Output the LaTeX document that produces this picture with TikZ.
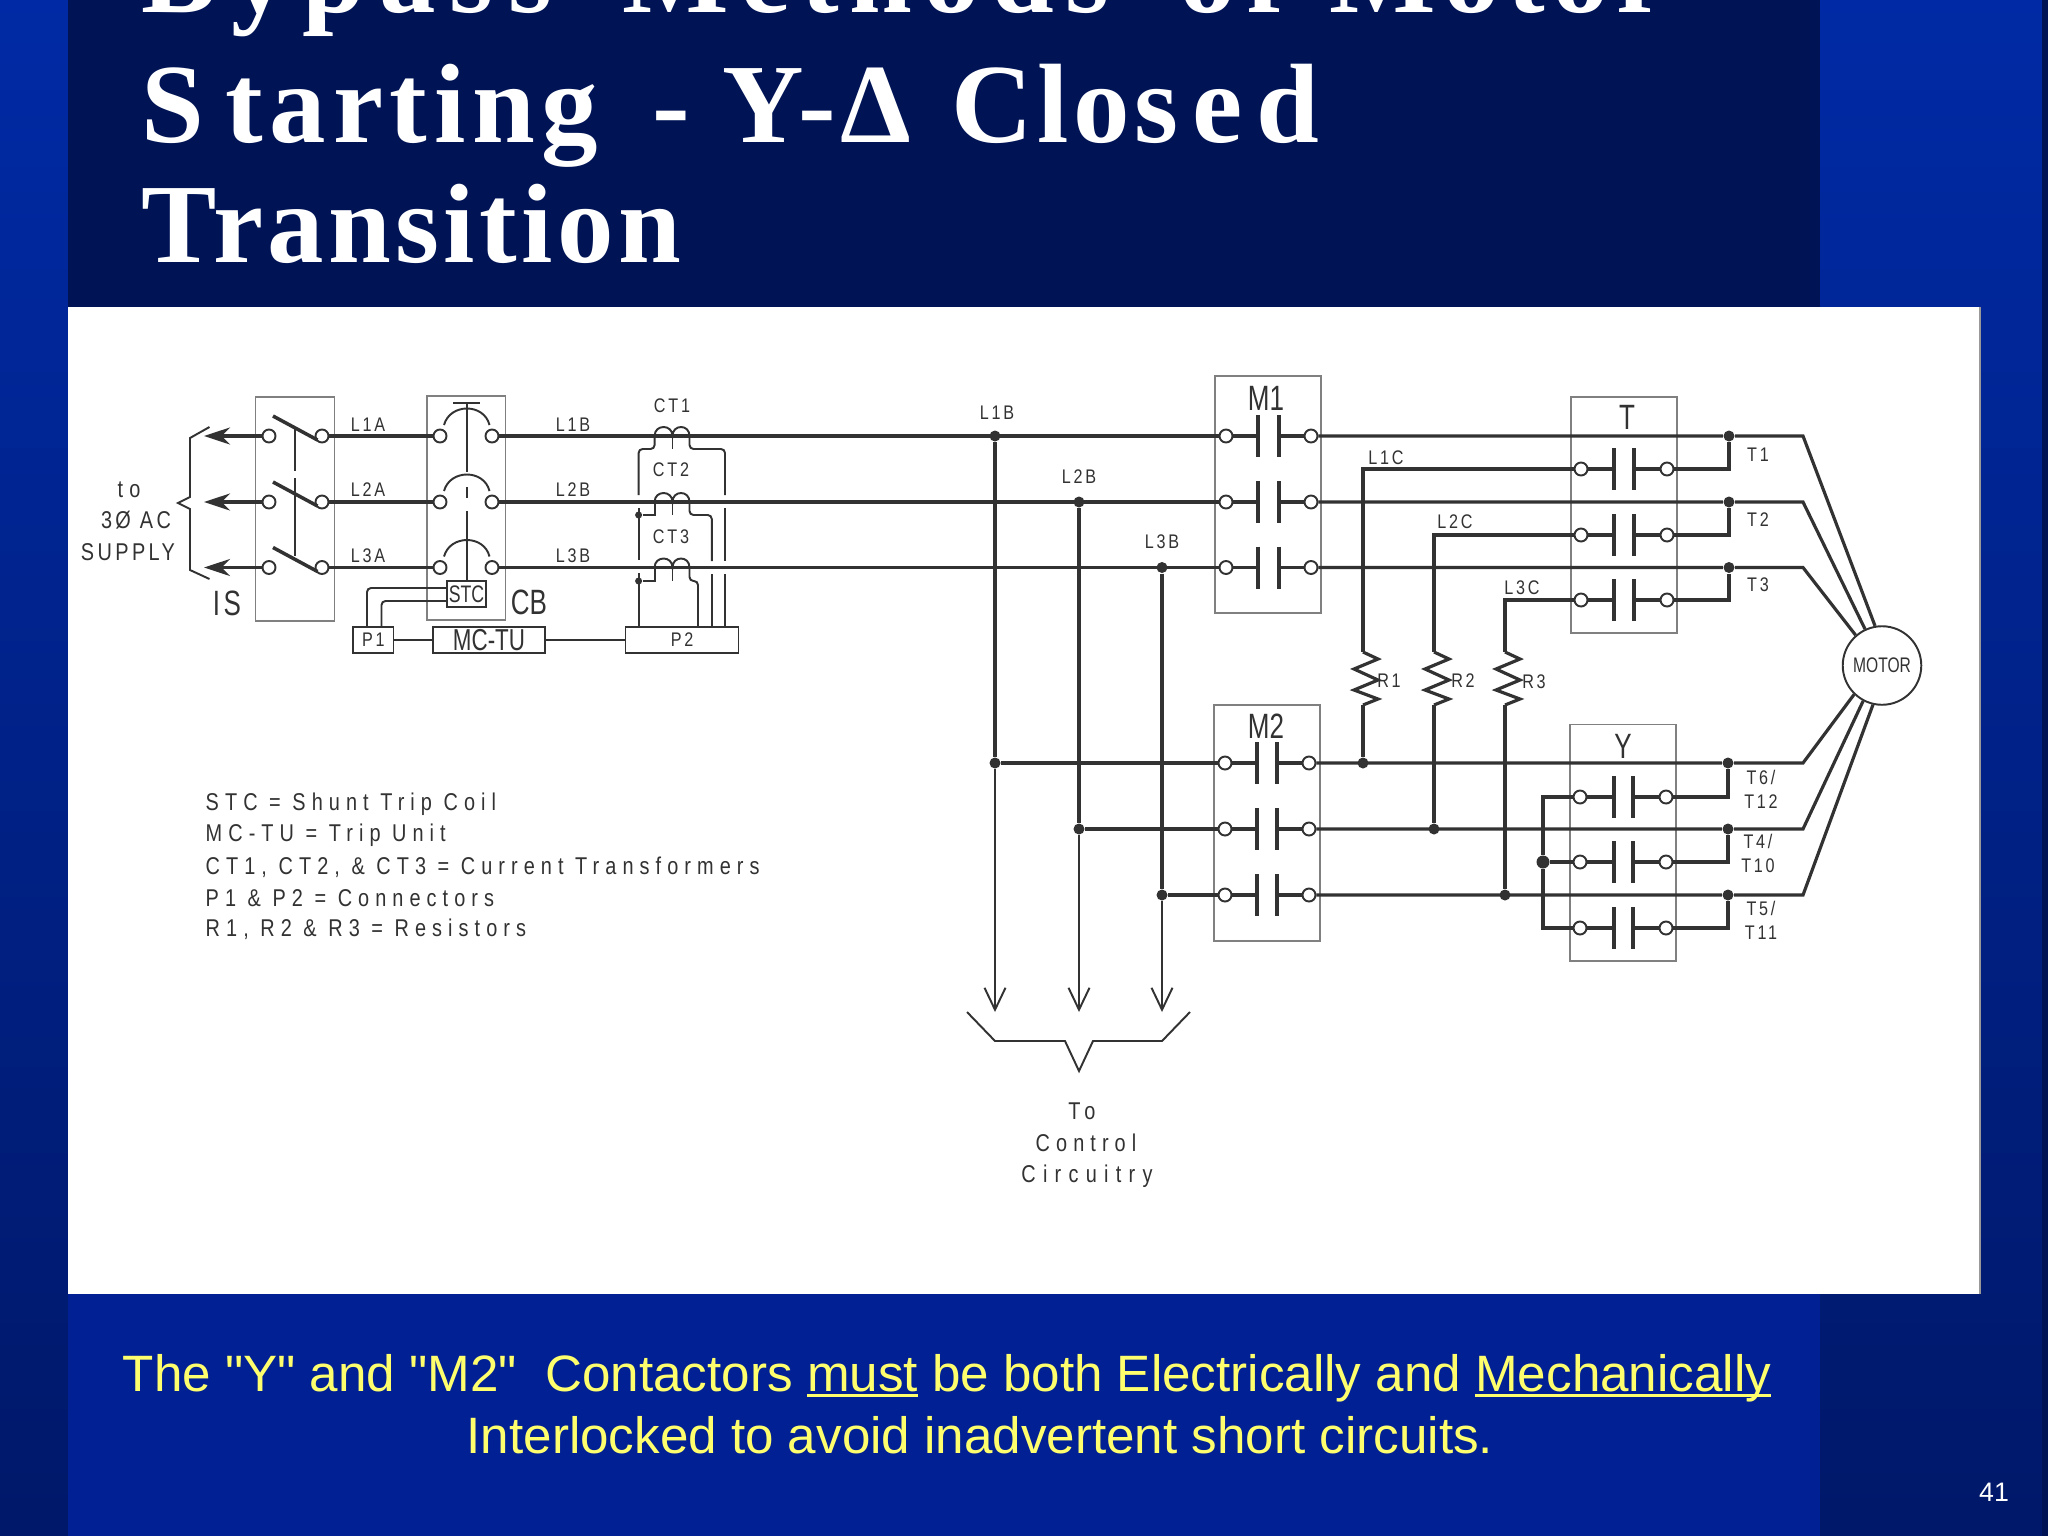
\documentclass[tikz,border=0pt]{standalone}
\usepackage{fontspec}
\usetikzlibrary{fit}
\usetikzlibrary{arrows.meta}
\newfontfamily\drawfont[LetterSpace=14,FakeStretch=0.82]{Liberation Sans}
\newfontfamily\legfont[LetterSpace=25,FakeStretch=0.82]{Liberation Sans}
\newfontfamily\tightfont[FakeStretch=0.74]{Liberation Sans}
\newfontfamily\plainfont{Liberation Sans}
\newfontfamily\titlefont[LetterSpace=4]{Liberation Serif}
\definecolor{navy}{RGB}{0,20,85}
\definecolor{stripTop}{RGB}{0,42,165}
\definecolor{stripLow}{RGB}{0,24,105}
\definecolor{footblue}{RGB}{0,32,148}
\definecolor{noteyellow}{RGB}{255,255,110}
\definecolor{ink}{RGB}{50,50,50}
\tikzset{
	wire/.style={line width=0.9pt,draw=ink},
	thinwire/.style={line width=0.55pt,draw=ink},
	plate/.style={line width=1pt,draw=ink},
	panel/.style={draw=black!50,line width=0.4pt,inner sep=0pt},
	term/.style={circle,draw=ink,fill=white,line width=0.55pt,minimum size=0.13cm,inner sep=0pt},
	jdot/.style={circle,fill=ink,minimum size=0.11cm,inner sep=0pt},
	lab/.style={text=ink,inner sep=0pt,font=\drawfont\fontsize{5.6}{6}\selectfont},
	leg/.style={text=ink,inner sep=0pt,font=\legfont\fontsize{6.9}{7}\selectfont},
	biglab/.style={text=ink,inner sep=0pt,font=\tightfont\fontsize{10}{10}\selectfont},
	conbox/.style={draw=ink,line width=0.45pt,inner sep=0pt},
	title/.style={text=white,anchor=base west,inner sep=0pt,font=\titlefont\fontsize{32.1}{32.1}\selectfont\bfseries},
	note/.style={text=noteyellow,anchor=base,inner sep=0pt,font=\plainfont\fontsize{14.55}{15}\selectfont},
}
% word with a line under it at a fixed depth
\newcommand{\ulword}[1]{\setbox0=\hbox{#1}\rlap{\rule[-1.7pt]{\wd0}{0.75pt}}\box0\relax}
\newcommand{\spaced}[2]{{\addfontfeature{LetterSpace=#1}#2}}
% name, left terminal, left plate, right plate, right terminal, row
\newcommand{\contact}[6]{%
	\node (#1-l) [term] at (#2,#6) {};
	\node (#1-r) [term] at (#5,#6) {};
	\coordinate (#1-a) at (#3,#6);
	\coordinate (#1-b) at (#4,#6);
	\draw[plate] (#3,#6-21) -- (#3,#6+21);
	\draw[plate] (#4,#6-21) -- (#4,#6+21);
	\draw[wire] (#1-l) -- (#1-a);
	\draw[wire] (#1-b) -- (#1-r);
}
\begin{document}
\begin{tikzpicture}[x=0.01cm,y=-0.01cm]
	\path[use as bounding box,clip] (0,0) rectangle (2048,1536);
	% slide
	\shade[top color=stripTop,bottom color=stripLow] (0,0) rectangle (2048,1536);
	\fill[navy] (2042,0) rectangle (2048,1536);
	\fill[navy] (68,0) rectangle (1820,307);
	\fill[footblue] (68,1294) rectangle (1820,1536);
	\fill[white] (68,307) rectangle (1980,1294);
	\draw[black!40,line width=0.4pt] (1980,307) -- (1980,1294);
	\node (title1) [title] at (141,12) {\spaced{12.7}{Bypass}\kern 20pt\spaced{9.8}{Methods}\kern 20pt\spaced{9.3}{of}\kern 13pt\spaced{6.6}{Motor}};
	\node (title2) [title] at (141,142) {S\kern 6pt\spaced{6}{tarting}\kern 6pt\ -\ Y-Δ\kern 11.5pt Clos\kern 4pt e\kern 4pt d};
	\node (title3) [title] at (141,262) {Trans\kern 1pt ition};
	\node (note1) [note] at (947,1391) {The "Y" and "M2"\ \ Contactors \ulword{must} be both Electrically and \ulword{Mechanically}};
	\node (note2) [note] at (980,1453) {Interlocked to avoid inadvertent short circuits.};
	\node (pagenum) [text=white,inner sep=0pt,font=\plainfont\fontsize{7.6}{8}\selectfont] at (1994,1492) {41};
	% panels
	\node (ISbox) [panel,fit={(255.5,397) (334.5,621)}] {};
	\node (CBbox) [panel,fit={(427,396) (505.5,620)}] {};
	\node (M1box) [panel,fit={(1215,376) (1321,613)}] {};
	\node (M2box) [panel,fit={(1214,705) (1320,941)}] {};
	\node (Tbox) [panel,fit={(1571,397) (1677,633)}] {};
	\node (Ybox) [panel,fit={(1570,724.5) (1676,961)}] {};
	% isolating switch and breaker
	\foreach \r/\y in {1/436,2/502,3/567.5}{
		\node (ISl\r) [term] at (269,\y) {};
		\node (ISr\r) [term] at (322,\y) {};
		\node (CBl\r) [term] at (440,\y) {};
		\node (CBr\r) [term] at (492,\y) {};
		\coordinate (sup\r) at (204,\y);
		\draw[wire,-{Stealth[length=0.26cm,width=0.17cm]}] (ISl\r) -- (sup\r);
		\draw[wire] (ISr\r) -- (CBl\r);
		\draw[plate] (273,\y-20) -- (317.5,\y+4);
		\draw[thinwire] (444,\y-11) .. controls (450,\y-33) and (484,\y-33) .. (489.5,\y-11);
	}
	\draw[thinwire] (295,428) -- (295,471) (295,478) -- (295,556);
	\draw[thinwire] (453,403) -- (480,403);
	\draw[thinwire] (466.7,403) -- (466.7,472) (466.7,487) -- (466.7,498) (466.7,511) -- (466.7,581);
	\draw[thinwire] (209.5,427) -- (190,438) -- (190,497) -- (178,503) -- (190,509) -- (190,570) -- (209.5,579);
	% contactors
	\foreach \r/\y in {1/436,2/502,3/567.5}{
		\contact{M1c\r}{1226}{1258}{1279}{1311}{\y}
		\draw[wire] (CBr\r) -- (M1c\r-l);
	}
	\foreach \r/\y in {1/763,2/829,3/895}{
		\contact{M2c\r}{1225}{1257}{1277}{1309}{\y}
	}
	\foreach \r/\y in {1/469,2/535,3/600}{
		\contact{Tc\r}{1581}{1614}{1634}{1667}{\y}
	}
	\foreach \r/\y in {1/797,2/862,3/928}{
		\contact{Yc\r}{1580}{1614}{1633}{1666}{\y}
	}
	\node (MOTOR) [circle,draw=ink,fill=white,line width=0.55pt,minimum size=0.785cm,inner sep=0pt,text=ink,font=\tightfont\fontsize{6}{6}\selectfont] at (1882,665.5) {MOTOR};
	% run lines to the motor
	\foreach \r/\y/\x/\a in {1/436/995/100,2/502/1079/115,3/567.5/1162/131}{
		\node (LB\r) [jdot] at (\x,\y) {};
		\node (Tj\r) [jdot] at (1729,\y) {};
		\coordinate (Tk\r) at (1803,\y);
		\draw[wire] (M1c\r-r) -- (Tj\r) -- (Tk\r) -- (MOTOR.\a);
	}
	\foreach \r/\y/\x/\a in {1/763/995/226,2/829/1079/242,3/895/1162/257}{
		\node (Lm\r) [jdot] at (\x,\y) {};
		\node (Yj\r) [jdot] at (1728,\y) {};
		\coordinate (Yk\r) at (1803,\y);
		\draw[wire] (Lm\r) -- (M2c\r-l);
		\draw[wire] (M2c\r-r) -- (Yj\r) -- (Yk\r) -- (MOTOR.\a);
		\draw[wire] (LB\r) -- (Lm\r);
		\coordinate (ctl\r) at (\x,1012);
		\draw[thinwire,-{Straight Barb[length=0.22cm,width=0.21cm]}] (Lm\r) -- (ctl\r);
	}
	\foreach \r in {1,2,3}{
		\draw[wire] (Tc\r-r) -| (Tj\r);
		\draw[wire] (Yc\r-r) -| (Yj\r);
	}
	% star point
	\node (Ystar) [jdot,minimum size=0.13cm] at (1543,862) {};
	\draw[wire] (Yc1-l) -| (Ystar);
	\draw[wire] (Yc3-l) -| (Ystar);
	\draw[wire] (Ystar) -- (Yc2-l);
	% resistors
	\foreach \r/\x/\y in {1/1363/469,2/1434/535,3/1505/600}{
		\coordinate (Rt\r) at (\x,652);
		\coordinate (Rb\r) at (\x,705);
		\coordinate (Lc\r) at (\x,\y);
		\draw[wire] (Tc\r-l) -- (Lc\r) -- (Rt\r);
		\draw[wire] (Rt\r) -- (\x+15,659) -- (\x-9,669) -- (\x+15,680) -- (\x-9,690) -- (\x+15,699) -- (Rb\r);
	}
	\node (Rj1) [jdot] at (1363,763) {};
	\node (Rj2) [jdot] at (1434,829) {};
	\node (Rj3) [jdot] at (1505,895) {};
	\draw[wire] (Rb1) -- (Rj1);
	\draw[wire] (Rb2) -- (Rj2);
	\draw[wire] (Rb3) -- (Rj3);
	% current transformers
	\foreach \y in {436,502,567.5}{
		\draw[thinwire] (654.6,\y) .. controls (654.6,\y-12) and (672.5,\y-12) .. (672.5,\y) .. controls (672.5,\y-12) and (689.5,\y-12) .. (689.5,\y);
		\draw[thinwire] (672.5,\y) -- (672.5,\y+13);
	}
	\node (CTd2) [jdot,minimum size=0.07cm] at (638.6,515) {};
	\node (CTd3) [jdot,minimum size=0.07cm] at (638.6,581) {};
	\begin{scope}[rounded corners=0.04cm]
		\draw[thinwire] (654.6,436) -- (654.6,449) -- (638.6,449) -- (638.6,495);
		\draw[thinwire] (689.5,436) -- (689.5,449) -- (725,449) -- (725,495);
		\draw[thinwire] (689.5,502) -- (689.5,515) -- (711.8,515) -- (711.8,561);
		\draw[thinwire] (689.5,567.5) -- (689.5,581) -- (698,581) -- (698,627);
		\draw[thinwire] (447,588) -- (367,588) -- (367,627);
		\draw[thinwire] (447,601) -- (381.5,601) -- (381.5,627);
	\end{scope}
	\draw[thinwire] (654.6,502) -- (654.6,515) -- (CTd2);
	\draw[thinwire] (654.6,567.5) -- (654.6,581) -- (CTd3);
	\draw[thinwire] (638.6,508) -- (638.6,560) (638.6,573) -- (638.6,627);
	\draw[thinwire] (725,508) -- (725,561) (725,574) -- (725,627);
	\draw[thinwire] (711.8,574) -- (711.8,627);
	% trip unit
	\node (STC) [conbox,fill=white,fit={(447,581) (486,607)}] {};
	\node at (STC.center) [lab,font=\tightfont\fontsize{6.8}{7}\selectfont] {STC};
	\node (P1) [conbox,fit={(353,627) (393.5,653)}] {};
	\node at (P1.center) [lab] {P1};
	\node (MCTU) [conbox,fit={(433,627) (545,653)}] {};
	\node at (MCTU.center) [biglab,font=\tightfont\fontsize{8.6}{9}\selectfont] {MC-TU};
	\node (P2) [conbox,fit={(625.6,627) (738.6,653)}] {};
	\node at (P2.center) [lab] {P2};
	\draw[thinwire] (P1) -- (MCTU);
	\draw[thinwire] (MCTU) -- (P2);
	% bracket to control circuitry
	\draw[thinwire] (967,1012) -- (995,1041) -- (1065,1041) -- (1079,1071) -- (1093,1041) -- (1162,1041) -- (1190,1012);
	% labels
	\node (supply1) [leg] at (129,490) {to};
	\node (supply2) [leg,font=\drawfont\fontsize{6.9}{7}\selectfont] at (136,520) {3Ø AC};
	\node (supply3) [leg,font=\drawfont\fontsize{6.9}{7}\selectfont] at (128,552) {SUPPLY};
	\node (ISlab) [biglab] at (227,603) {I\kern 1pt S};
	\node (CBlab) [biglab] at (529,602) {CB};
	\foreach \n/\x/\y in {L1A/368/425,L2A/368/490,L3A/368/556,L1B/573/425,L2B/573/490,L3B/573/556,CT1/672/406,CT2/671/470,CT3/671/537,L1B/997/413,L2B/1079/477,L3B/1162/542,L1C/1386/458,L2C/1455/522,L3C/1522/588,R1/1389/681,R2/1463/681,R3/1534/682,T1/1758/455,T2/1758/520,T3/1758/585}{
		\node at (\x,\y) [lab] {\n};
	}
	\foreach \n/\x/\y in {{T6/}/1761/777,T12/1761/802,{T4/}/1758/841,T10/1758/866,{T5/}/1761/908,T11/1761/933}{
		\node at (\x,\y) [lab] {\n};
	}
	\node (M1lab) [biglab] at (1266,398) {M1};
	\node (M2lab) [biglab] at (1266,726) {M2};
	\node (Tlab) [biglab] at (1627,417) {T};
	\node (Ylab) [biglab] at (1623,746) {Y};
	\node (ctl1lab) [leg] at (1082,1111) {To};
	\node (ctl2lab) [leg] at (1086,1143) {Control};
	\node (ctl3lab) [leg] at (1087,1176) {\addfontfeature{LetterSpace=30}Circuitry};
	% legend
	\foreach \t/\y in {{STC = Shunt Trip Coil}/804,{MC-TU = Trip Unit}/835,{CT1, CT2, \& CT3 = Current Transformers}/867,{P1 \& P2 = Connectors}/898,{R1, R2 \& R3 = Resistors}/929}{
		\node at (205,\y) [leg,anchor=west] {\t};
	}
\end{tikzpicture}
\end{document}
